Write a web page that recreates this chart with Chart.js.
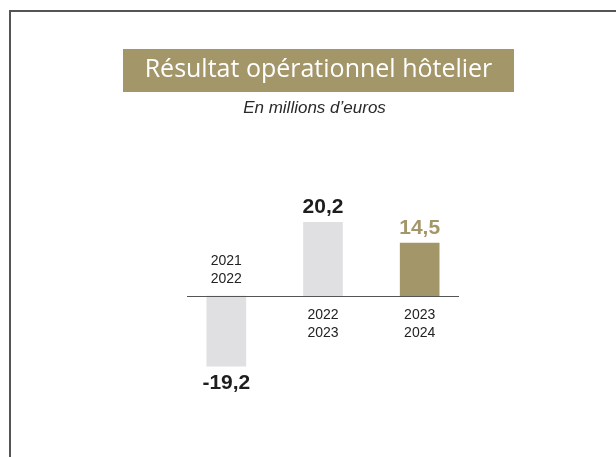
<!DOCTYPE html>
<html>
<head>
<meta charset="utf-8">
<script src="https://cdn.jsdelivr.net/npm/chart.js@4/dist/chart.umd.min.js"></script>
<style>
html,body{margin:0;padding:0;background:#fff;}
#wrap{position:relative;width:616px;height:457px;}
</style>
</head>
<body>
<div id="wrap"><canvas id="c" width="616" height="457"></canvas></div>
<script>
const titleText = "Résultat opérationnel hôtelier";
const subtitleText = "En millions d’euros";
const categories = [["2021","2022"],["2022","2023"],["2023","2024"]];
const values = [-19.2, 20.2, 14.5];
const valueLabels = ["-19,2","20,2","14,5"];
const barColors = ["#e0e0e2","#e0e0e2","#a39669"];
const valueColors = ["#1e1e1e","#1e1e1e","#a39669"];

const GOLD = "#a39669";

const decor = {
  id: 'decor',
  beforeDraw(chart) {
    const ctx = chart.ctx;
    ctx.save();
    ctx.fillStyle = '#fff';
    ctx.fillRect(0,0,chart.width,chart.height);
    // frame
    ctx.strokeStyle = '#555';
    ctx.lineWidth = 2;
    ctx.beginPath();
    ctx.moveTo(10, chart.height);
    ctx.lineTo(10, 11);
    ctx.lineTo(chart.width, 11);
    ctx.stroke();
    // title box
    ctx.fillStyle = GOLD;
    ctx.fillRect(123, 49, 391, 43);
    ctx.fillStyle = '#fff';
    ctx.font = '25px "Open Sans"';
    ctx.textAlign = 'center';
    ctx.textBaseline = 'middle';
    ctx.fillText(titleText, 318.5, 70);
    ctx.fillStyle = '#2a2a2a';
    ctx.font = 'italic 17px "Liberation Sans"';
    ctx.fillText(subtitleText, 314.5, 108);
    ctx.restore();
  },
  afterDatasetsDraw(chart) {
    const ctx = chart.ctx;
    const ys = chart.scales.y;
    const y0 = ys.getPixelForValue(0);
    ctx.save();
    // zero line
    ctx.strokeStyle = '#555';
    ctx.lineWidth = 1;
    ctx.beginPath();
    ctx.moveTo(chart.chartArea.left + 9, y0 + 0.5);
    ctx.lineTo(chart.chartArea.right - 9, y0 + 0.5);
    ctx.stroke();
    ctx.textAlign = 'center';
    const meta = chart.getDatasetMeta(0);
    values.forEach((v, i) => {
      const bar = meta.data[i];
      const x = bar.x;
      // value label
      ctx.font = 'bold 21px "Liberation Sans"';
      ctx.fillStyle = valueColors[i];
      ctx.textBaseline = 'alphabetic';
      if (v >= 0) {
        ctx.fillText(valueLabels[i], x, bar.y - 9);
      } else {
        ctx.fillText(valueLabels[i], x, bar.y + 23);
      }
      // category label
      ctx.font = '14px "Liberation Sans"';
      ctx.fillStyle = '#222';
      ctx.textBaseline = 'middle';
      const lines = categories[i];
      if (v >= 0) {
        ctx.fillText(lines[0], x, y0 + 19);
        ctx.fillText(lines[1], x, y0 + 37);
      } else {
        ctx.fillText(lines[0], x, y0 - 35);
        ctx.fillText(lines[1], x, y0 - 17);
      }
    });
    ctx.restore();
  }
};

new Chart(document.getElementById('c'), {
  type: 'bar',
  data: {
    labels: categories.map(c => c.join(' ')),
    datasets: [{
      data: values,
      backgroundColor: barColors,
      borderWidth: 0,
      barThickness: 39
    }]
  },
  options: {
    responsive: false,
    animation: false,
    devicePixelRatio: 1,
    layout: { padding: { left: 178, right: 148, top: 186.5, bottom: 51.5 } },
    plugins: { legend: { display: false }, tooltip: { enabled: false } },
    scales: {
      x: { display: false, grid: { display: false } },
      y: { display: false, min: -30, max: 30, grid: { display: false } }
    }
  },
  plugins: [decor]
});
</script>
</body>
</html>
